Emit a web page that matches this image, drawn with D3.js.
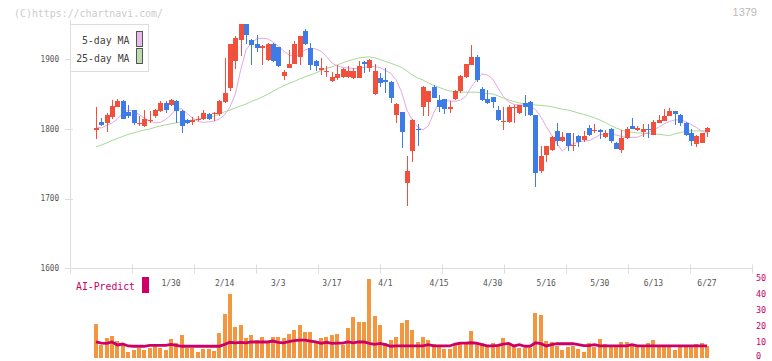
<!DOCTYPE html>
<html><head><meta charset="utf-8">
<script src="https://cdn.jsdelivr.net/npm/d3@7"></script>
<style>body{margin:0;background:#fff}svg{display:block}</style>
</head><body>
<svg id="c" width="772" height="361"></svg>
<script>
const opens = [1799,1810,1809,1817,1832,1840,1824,1827,1807,1805,
 1811,1818,1826,1838,1835,1840,1826,1813,1810,1813,
 1815,1821,1822,1821,1839,1859,1898,1928,1951,1928,
 1922,1916,1899,1922,1918,1876,1888,1894,1904,1941,
 1917,1897,1885,1882,1869,1873,1875,1875,1873,1874,
 1896,1887,1850,1874,1870,1868,1820,1824,1723,1769,
 1800,1832,1839,1861,1842,1843,1830,1843,1854,1875,
 1892,1903,1857,1843,1846,1827,1810,1810,1830,1823,
 1837,1839,1820,1740,1763,1770,1797,1783,1795,1775,
 1790,1784,1801,1798,1799,1788,1800,1780,1770,1787,
 1804,1799,1796,1800,1791,1809,1812,1819,1826,1820,
 1809,1795,1779,1780,1796];
const highs = [1832,1816,1823,1842,1843,1841,1834,1828,1818,1827,
 1826,1829,1840,1840,1843,1842,1828,1815,1817,1819,
 1828,1823,1824,1842,1902,1922,1934,1951,1951,1930,
 1935,1920,1923,1923,1918,1885,1914,1927,1934,1944,
 1924,1899,1902,1891,1882,1892,1887,1890,1887,1898,
 1897,1900,1893,1881,1888,1869,1837,1825,1761,1814,
 1807,1862,1855,1863,1849,1843,1840,1856,1877,1894,
 1920,1906,1860,1856,1846,1833,1832,1835,1834,1834,
 1849,1840,1820,1775,1776,1790,1808,1796,1795,1795,
 1791,1797,1806,1807,1800,1799,1801,1782,1798,1803,
 1816,1805,1807,1807,1813,1820,1829,1830,1826,1821,
 1810,1800,1791,1795,1803];
const lows = [1786,1805,1796,1815,1831,1814,1816,1806,1805,1803,
 1809,1816,1824,1823,1833,1808,1795,1807,1806,1811,
 1813,1813,1811,1819,1837,1854,1886,1905,1922,1892,
 1911,1892,1897,1896,1889,1870,1887,1893,1892,1920,
 1885,1883,1878,1875,1868,1871,1874,1874,1872,1873,
 1881,1882,1849,1860,1852,1838,1809,1773,1690,1752,
 1775,1819,1819,1844,1825,1822,1823,1841,1852,1873,
 1892,1867,1840,1836,1830,1812,1799,1808,1809,1821,
 1818,1818,1717,1737,1753,1768,1775,1781,1768,1768,
 1774,1781,1790,1795,1785,1787,1780,1771,1766,1786,
 1800,1797,1788,1787,1791,1809,1811,1819,1806,1804,
 1790,1776,1774,1780,1789];
const closes = [1801,1806,1820,1833,1840,1815,1818,1808,1809,1814,
 1813,1827,1838,1827,1842,1826,1804,1809,1813,1814,
 1823,1815,1823,1840,1852,1922,1931,1951,1935,1921,
 1916,1919,1922,1897,1890,1882,1894,1922,1933,1922,
 1892,1890,1887,1884,1875,1879,1886,1883,1883,1890,
 1893,1899,1883,1866,1867,1845,1836,1796,1740,1813,
 1799,1861,1854,1845,1832,1829,1831,1854,1876,1893,
 1903,1870,1842,1838,1839,1813,1812,1832,1832,1834,
 1831,1820,1737,1761,1775,1789,1783,1789,1775,1777,
 1782,1790,1792,1799,1796,1795,1783,1771,1787,1800,
 1800,1801,1800,1799,1810,1813,1818,1826,1821,1808,
 1792,1783,1790,1794,1802];
const ma5 = [1803,1801.6,1805.2,1808.8,1814.5,1822.4,1827,1826,1821,1816,
 1811.6,1808.8,1809.5,1813.8,1820.3,1829.6,1828.9,1822.4,1816,1811,
 1809.5,1810.3,1811.2,1814.5,1820.3,1831.8,1850.4,1885,1913.6,1923.7,
 1929.5,1930.5,1929.5,1925.2,1919.4,1912.2,1906.5,1904.3,1907.2,1913.6,
 1916.1,1915,1911.5,1904,1895,1890.7,1888.5,1887.8,1886.8,1886.8,
 1888.5,1889.7,1889.7,1888.5,1884.2,1879.9,1870.5,1853.3,1827.4,1813.1,
 1803,1798.7,1804.5,1823.1,1837.5,1840.4,1840.4,1839.7,1841.8,1846.8,
 1860.5,1870.5,1879.2,1877.7,1872,1859,1846.6,1839,1835.3,1834.6,
 1834.6,1832.5,1828.2,1817.4,1803.7,1791.5,1779.3,1768.5,1775,1778.6,
 1781.5,1782.9,1783.3,1787.2,1791.5,1793,1793,1791.5,1789.4,1787.6,
 1788,1788.2,1791.5,1795.1,1798.7,1802.6,1807.3,1810.9,1813.1,1813.1,
 1810.9,1806.6,1802.3,1797.3,1794];
const ma25 = [1774.3,1777,1780,1783.6,1786.5,1789.4,1792.2,1794.4,1796.6,1798.7,
 1800,1802.3,1804.5,1806,1807.6,1809,1810.2,1811.6,1813,1814,
 1816,1817.4,1818.8,1821.7,1824.6,1827.4,1830.3,1833.2,1836,1839.7,
 1842.5,1846,1849.7,1854,1858.3,1862,1865.5,1868.4,1872,1874.9,
 1877.7,1880.6,1884.2,1887,1889.2,1892,1895,1897.8,1900,1902,
 1903,1903.6,1902.4,1900,1897,1894.5,1891.7,1888.5,1883.5,1877.7,
 1873.4,1870.5,1866.2,1862.6,1859.8,1856.9,1854.7,1853.3,1852.9,1852.9,
 1852.9,1852.9,1851.9,1851,1850.4,1847.6,1844.7,1841.8,1839.4,1837.5,
 1836,1835.3,1834.6,1833.9,1833.2,1832,1830.3,1828.4,1827.4,1825.3,
 1823.1,1821,1818.8,1816,1813,1809.5,1805.2,1801.6,1798.7,1796.6,
 1795.4,1794.4,1794,1793.5,1793,1792.5,1791.5,1790.5,1793,1794.8,
 1796.6,1797.3,1797.3,1797.3,1797.3];
const volumes = [21.2,8,12.4,13.6,10.5,8.6,3.6,4.8,6.3,4.8,
 6.1,7.4,6.1,4.8,11.8,9.2,14.3,6.1,6.1,3.6,
 5.5,5.5,4.2,15.5,27.5,40,19.3,20.6,12.4,14.3,
 11.1,13,9.9,13,13,12.4,14.9,17.4,20.6,16.2,
 16.2,9.9,12.4,13,14.3,14.9,8,18.7,25.6,22.5,
 22.5,49.5,26.2,20.6,9.2,11.1,13,21.8,23.7,17.4,
 9.9,13,11.1,8.6,7.4,5.5,5.5,8,9.2,9.9,
 16.8,8.6,9.2,7.4,9.2,8,12.4,8.6,7.4,6.1,
 6.1,6.1,28.1,26.9,10.5,9.9,7.4,4.8,6.7,7.4,
 5.5,3.6,9.2,6.7,11.8,8.6,7.4,7.4,9.9,9.9,
 8,7.4,7.4,9.2,11.1,7.4,7.4,7.4,4.8,7.4,
 7.4,7.4,8.6,9.2,7.4];
const aiPredict = [9.9,9.2,9,9.9,8,8.6,7.4,7.2,7.2,7.2,
 7.8,7.8,7.8,7.8,8.4,7.8,7.2,7.2,7.2,7.2,
 7.2,7.2,7.2,7.2,8.4,9.7,9.3,9.7,9.3,9.9,
 9.9,9.9,9.9,10.5,9.7,9.3,10.1,10.7,11.1,11.1,
 10.5,9.9,9,9.7,9,9.2,9.2,9.9,9.4,9.9,
 9.9,9,8.4,9,8.2,7.2,7.4,7.4,7.4,7.4,
 7.4,7.4,8.2,7.4,7.4,7.4,7.4,8.6,9.2,9.2,
 9.4,9.2,8.2,7.4,7.4,7.8,8.6,9,7.4,8.2,
 7.2,7.2,9.4,8.8,7.4,8.2,8.8,8.8,8.8,8.8,
 8.2,7.6,7.6,8.2,7.4,7.4,7.4,7.4,7.4,7.4,
 8.2,7.4,7.4,7.4,7.4,7.4,7.4,7.4,7.4,7.4,
 7.4,7.4,7.4,7.4,7.4];
const tickLabels = ["1/30","2/14","3/3","3/17","4/1","4/15","4/30","5/16","5/30","6/13","6/27"];
const tickIndex = [14,24,34,44,54,64,74,84,94,104,114];
const priceTicks = [1600,1700,1800,1900];
const volTicks = [0,10,20,30,40,50];

const svg = d3.select("#c");
const N = closes.length;
const idx = d3.range(N);
const x = d3.scaleLinear().domain([0, N - 1]).range([96, 707]);
const y = d3.scaleLinear().domain([1600, 1900]).range([268.3, 59.4]);
const yv = d3.scaleLinear().domain([0, 50]).range([357.7, 278.3]);
const frame = d3.scaleLinear().domain([0, 11]).range([70.5, 752.5]);
const mono = "'DejaVu Sans Mono', 'Liberation Mono', monospace";

// header texts
svg.append("text").attr("x", 14).attr("y", 16.5).attr("font-family", mono)
  .attr("font-size", 11).attr("fill", "#ccc").attr("textLength", 149)
  .attr("lengthAdjust", "spacingAndGlyphs").text("(C)https://chartnavi.com/");
svg.append("text").attr("x", 757).attr("y", 16).attr("text-anchor", "end")
  .attr("font-family", "'Liberation Sans', Arial, sans-serif").attr("font-size", 11)
  .attr("fill", "#bbb").text("1379");

// left axis line
svg.append("line").attr("x1", 70.5).attr("x2", 70.5).attr("y1", 20).attr("y2", 268.5)
  .attr("stroke", "#ddd");
// bottom axis line + frame ticks
svg.append("line").attr("x1", 70.5).attr("x2", 752.5).attr("y1", 268.5).attr("y2", 268.5)
  .attr("stroke", "#ddd");
svg.append("g").selectAll("line").data(d3.range(12)).join("line")
  .attr("x1", d => frame(d)).attr("x2", d => frame(d))
  .attr("y1", 264.5).attr("y2", 273.5).attr("stroke", "#ddd");

// y ticks
const yt = svg.append("g");
yt.selectAll("line").data(priceTicks).join("line")
  .attr("x1", 65).attr("x2", 73).attr("y1", d => Math.round(y(d)) + 0.5)
  .attr("y2", d => Math.round(y(d)) + 0.5).attr("stroke", "#ddd");
yt.selectAll("text").data(priceTicks).join("text")
  .attr("x", 59).attr("y", d => y(d) + 2.8).attr("text-anchor", "end")
  .attr("font-family", mono).attr("font-size", 8).attr("fill", "#555")
  .attr("textLength", 18.5).attr("lengthAdjust", "spacingAndGlyphs").text(d => d);

// x labels
svg.append("g").selectAll("text").data(tickIndex).join("text")
  .attr("x", d => x(d)).attr("y", 285.7).attr("text-anchor", "middle")
  .attr("font-family", mono).attr("font-size", 8).attr("fill", "#555")
  .text((d, i) => tickLabels[i]);

// moving averages
const line = arr => d3.line().x(i => x(i)).y(i => y(arr[i]));
svg.append("path").attr("d", line(ma25)(idx)).attr("fill", "none")
  .attr("stroke", "#a8d898").attr("stroke-width", 1);
svg.append("path").attr("d", line(ma5)(idx)).attr("fill", "none")
  .attr("stroke", "#e4a8e4").attr("stroke-width", 1);

// candles
const up = i => closes[i] >= opens[i];
const col = i => up(i) ? "#f0503c" : "#3d7be6";
const cg = svg.append("g").attr("shape-rendering", "crispEdges");
cg.selectAll("line").data(idx).join("line")
  .attr("x1", i => Math.round(x(i)) + 0.5).attr("x2", i => Math.round(x(i)) + 0.5)
  .attr("y1", i => y(highs[i])).attr("y2", i => y(lows[i]))
  .attr("stroke", col).attr("stroke-width", 1);
cg.selectAll("rect").data(idx).join("rect")
  .attr("x", i => Math.round(x(i)) - 2)
  .attr("width", 5)
  .attr("y", i => y(Math.max(opens[i], closes[i])))
  .attr("height", i => Math.max(1.2, Math.abs(y(opens[i]) - y(closes[i]))))
  .attr("fill", col);

// legend
const lg = svg.append("g");
lg.append("rect").attr("x", 70.5).attr("y", 24.5).attr("width", 78).attr("height", 47)
  .attr("fill", "#fff").attr("stroke", "#ddd");
lg.append("text").attr("x", 129.5).attr("y", 44).attr("text-anchor", "end")
  .attr("font-family", mono).attr("font-size", 11).attr("fill", "#444")
  .attr("textLength", 47.6).attr("lengthAdjust", "spacingAndGlyphs").text("5-day MA");
lg.append("text").attr("x", 129.5).attr("y", 61.5).attr("text-anchor", "end")
  .attr("font-family", mono).attr("font-size", 11).attr("fill", "#444")
  .attr("textLength", 53.3).attr("lengthAdjust", "spacingAndGlyphs").text("25-day MA");
lg.append("rect").attr("x", 136.5).attr("y", 31.5).attr("width", 6).attr("height", 15)
  .attr("fill", "#ebb8eb").attr("stroke", "#555");
lg.append("rect").attr("x", 136.5).attr("y", 48.5).attr("width", 6).attr("height", 15)
  .attr("fill", "#bcdcb0").attr("stroke", "#555");

// volume bars
svg.append("g").attr("shape-rendering", "crispEdges").selectAll("rect").data(idx).join("rect")
  .attr("x", i => Math.round(x(i)) - 2).attr("width", 4)
  .attr("y", i => yv(volumes[i])).attr("height", i => yv(0) - yv(volumes[i]))
  .attr("fill", "#f29640");

// AI predict line
svg.append("path").attr("d", d3.line().x(i => x(i)).y(i => yv(aiPredict[i]))(idx))
  .attr("fill", "none").attr("stroke", "#cc0066").attr("stroke-width", 2.8);

// AI-Predict label
svg.append("text").attr("x", 76).attr("y", 290).attr("font-family", mono)
  .attr("font-size", 11).attr("fill", "#cc0066").attr("textLength", 59)
  .attr("lengthAdjust", "spacingAndGlyphs").text("AI-Predict");
svg.append("rect").attr("x", 142).attr("y", 277).attr("width", 7).attr("height", 16)
  .attr("fill", "#cc0066");

// volume axis labels
svg.append("g").selectAll("text").data(volTicks).join("text")
  .attr("x", 756).attr("y", d => Math.min(yv(d) + 3, 359)).attr("font-family", mono)
  .attr("font-size", 8.5).attr("fill", "#cc0066").text(d => d);
</script>
</body></html>
